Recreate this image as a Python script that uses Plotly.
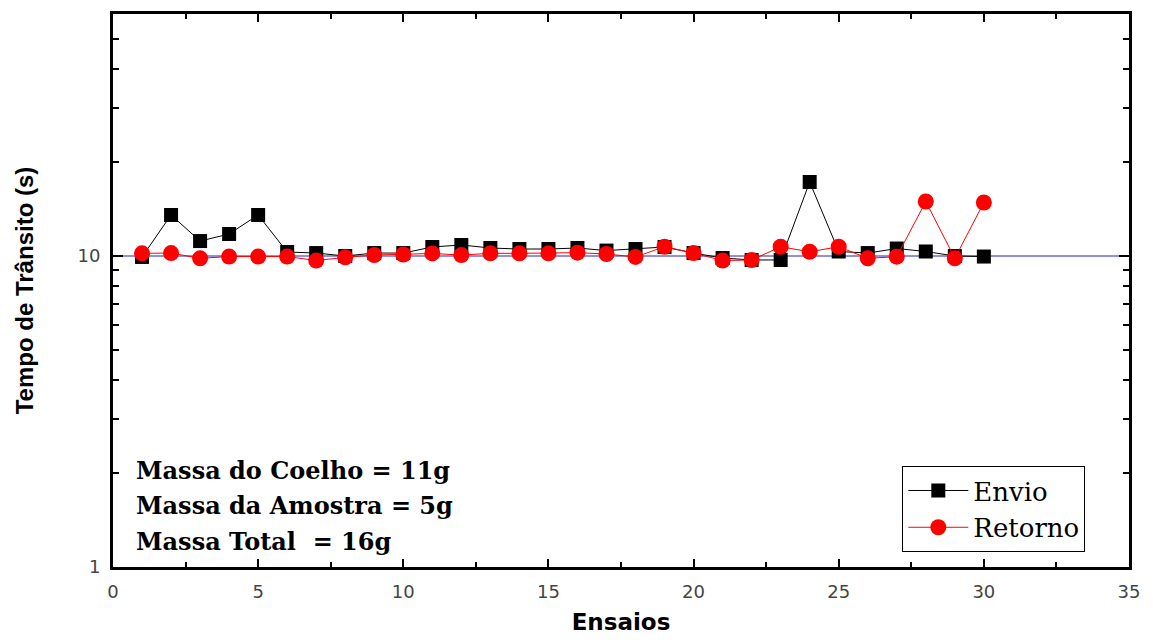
import math
import plotly.graph_objects as go

ensaios = list(range(1, 31))
envio = [9.93, 13.55, 11.17, 11.77, 13.55, 10.30, 10.22, 10.0, 10.22, 10.22,
         10.69, 10.85, 10.61, 10.53, 10.53, 10.61, 10.41, 10.53, 10.69, 10.22,
         9.85, 9.71, 9.71, 17.3, 10.34, 10.22, 10.57, 10.34, 10.0, 9.96]
retorno = [10.2, 10.22, 9.83, 9.96, 9.96, 9.96, 9.67, 9.9, 10.07, 10.11,
           10.19, 10.07, 10.2, 10.2, 10.2, 10.25, 10.15, 9.93, 10.71, 10.22,
           9.67, 9.71, 10.71, 10.32, 10.71, 9.83, 9.95, 14.97, 9.83, 14.86]
ref_level = 10
x_range = [0, 35]
y_range = [1, 60]
y_tickvals = [1, 10]
y_minor_vals = [2, 3, 4, 5, 6, 7, 8, 9, 20, 30, 40, 50]
info_lines = ["Massa do Coelho = 11g", "Massa da Amostra = 5g", "Massa Total  = 16g"]

fig = go.Figure()
fig.add_hline(y=ref_level, line=dict(color="#2020c0", width=1), layer="below")
fig.add_trace(go.Scatter(
    x=ensaios, y=envio, mode="lines+markers", name="Envio",
    line=dict(color="black", width=1),
    marker=dict(symbol="square", size=14, color="black")))
fig.add_trace(go.Scatter(
    x=ensaios, y=retorno, mode="lines+markers", name="Retorno",
    line=dict(color="red", width=1),
    marker=dict(symbol="circle", size=16, color="red")))

line_centers = [0.1754, 0.1121, 0.047]
for txt, yy in zip(info_lines, line_centers):
    fig.add_annotation(
        x=0.021, y=yy, xref="paper", yref="paper", xanchor="left", yanchor="middle",
        text=txt, align="left", showarrow=False,
        font=dict(family="DejaVu Serif", size=24, color="black", weight="bold"))

fig.update_layout(
    width=1153, height=644,
    margin=dict(l=113, r=24, t=14, b=77),
    paper_bgcolor="white", plot_bgcolor="white",
    showlegend=True,
    legend=dict(x=0.957, y=0.027, xanchor="right", yanchor="bottom",
                bordercolor="black", borderwidth=1, bgcolor="white",
                font=dict(family="DejaVu Serif", size=26, color="black"),
                tracegroupgap=0, itemwidth=60),
    xaxis=dict(range=x_range, dtick=5, showgrid=False, zeroline=False, automargin=False,
               showline=True, linecolor="black", linewidth=3, mirror="allticks",
               ticks="inside", ticklen=8, tickwidth=2, tickcolor="black",
               minor=dict(ticks="inside", ticklen=5, tickwidth=2, dtick=2.5, tickcolor="black"),
               tickfont=dict(family="DejaVu Sans", size=18, color="#444"),
               ticklabelstandoff=6,
               title=dict(text="Ensaios", standoff=14,
                          font=dict(family="DejaVu Sans", size=23, color="black", weight="bold"))),
    yaxis=dict(type="log", range=[math.log10(y_range[0]), math.log10(y_range[1])],
               tickvals=y_tickvals, ticktext=[str(v) for v in y_tickvals],
               showgrid=False, zeroline=False, automargin=False,
               showline=True, linecolor="black", linewidth=3, mirror="allticks",
               ticks="inside", ticklen=10, tickwidth=2, tickcolor="black",
               minor=dict(ticks="inside", ticklen=6, tickwidth=2, tickcolor="black",
                          tickmode="array", tickvals=y_minor_vals),
               tickfont=dict(family="DejaVu Sans", size=18, color="#444"),
               ticklabelstandoff=6,
               title=dict(text="Tempo de Trânsito (s)", standoff=38,
                          font=dict(family="Liberation Sans", size=24, color="black", weight="bold"))),
)

fig.write_html("out.html")
